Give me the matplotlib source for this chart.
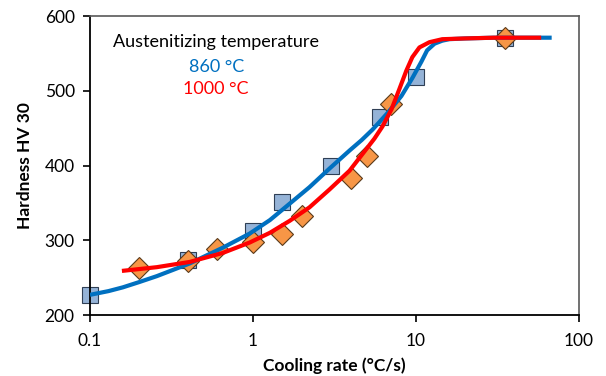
import numpy as np
import matplotlib.pyplot as plt
from matplotlib.ticker import FixedLocator, FixedFormatter, NullLocator

plt.rcParams['font.family'] = ['Lato', 'DejaVu Sans']

# measured points, 860 °C (squares)
rate_860 = [0.1, 0.4, 1, 1.5, 3, 6, 10, 35]
hv_860 = [227, 273, 313, 351, 400, 465, 519, 570]

# measured points, 1000 °C (diamonds)
rate_1000 = [0.2, 0.4, 0.6, 1, 1.5, 2, 4, 5, 7, 35]
hv_1000 = [263, 272, 288, 298, 308, 332, 383, 413, 482, 570]

# fitted curves
fit_rate_860 = [0.1, 0.13, 0.159, 0.2, 0.257, 0.32, 0.409, 0.652, 0.955, 1.27, 1.68, 2.22, 2.95,
                3.91, 4.64, 5.41, 6.68, 8.14, 9.5, 10.8, 11.7, 13, 14.5, 16, 20, 30, 68]
fit_hv_860 = [227, 232, 237, 244, 252, 260, 269, 290, 309, 327, 349, 371, 396,
              420, 434, 448, 470, 493, 517, 539, 554, 563, 567, 569, 570, 571, 571]

fit_rate_1000 = [0.157, 0.257, 0.409, 0.652, 0.955, 1.27, 1.68, 2.22, 2.95, 3.91, 5.04, 5.56,
                 6.22, 7.07, 7.9, 8.73, 9.5, 10.5, 12.1, 14.5, 20, 30, 58.6]
fit_hv_1000 = [259, 264, 271, 283, 297, 310, 326, 344, 368, 393, 424, 436,
               452, 475, 502, 527, 545, 558, 565, 569, 570, 571, 571]

x_ticks = [0.1, 1, 10, 100]
x_labels = ['0.1', '1', '10', '100']
y_ticks = [200, 300, 400, 500, 600]

fig = plt.figure(figsize=(6.06, 3.76), dpi=100)
ax = fig.add_axes([0.1485, 0.1622, 0.8069, 0.7952])

ax.plot(rate_860, hv_860, linestyle='none', marker='s', markersize=12,
        markerfacecolor='#95B3D7', markeredgecolor='#2F3F55', markeredgewidth=0.8, zorder=2, clip_on=False)
ax.plot(rate_1000, hv_1000, linestyle='none', marker='D', markersize=11.5,
        markerfacecolor='#F79646', markeredgecolor='#5A3A1A', markeredgewidth=0.8, zorder=3, clip_on=False)
ax.plot(fit_rate_860, fit_hv_860, color='#0070C0', lw=3, zorder=4,
        solid_capstyle='butt', solid_joinstyle='round')
ax.plot(fit_rate_1000, fit_hv_1000, color='#FF0000', lw=3, zorder=5,
        solid_capstyle='butt', solid_joinstyle='round')

ax.set_xscale('log')
ax.set_xlim(0.1, 100)
ax.set_ylim(200, 600)
ax.xaxis.set_major_locator(FixedLocator(x_ticks))
ax.xaxis.set_major_formatter(FixedFormatter(x_labels))
ax.xaxis.set_minor_locator(NullLocator())
ax.set_yticks(y_ticks)

ax.tick_params(axis='both', direction='out', length=5, width=1.2, labelsize=12.5, colors='black')
ax.tick_params(axis='x', pad=8)
ax.tick_params(axis='y', pad=6)

for side in ['left', 'bottom']:
    ax.spines[side].set_color('black')
    ax.spines[side].set_linewidth(1.3)
for side in ['top', 'right']:
    ax.spines[side].set_color('#595959')
    ax.spines[side].set_linewidth(1.2)

ax.set_xlabel('Cooling rate (°C/s)', fontsize=12.5, fontweight='bold', labelpad=6)
ax.set_ylabel('Hardness HV 30', fontsize=12.5, fontweight='bold', labelpad=8)

ax.text(0.258, 0.913, 'Austenitizing temperature', transform=ax.transAxes,
        fontsize=13, ha='center', va='center', color='black')
ax.text(0.258, 0.83, '860 °C', transform=ax.transAxes, fontsize=13, ha='center', va='center', color='#0070C0')
ax.text(0.258, 0.756, '1000 °C', transform=ax.transAxes, fontsize=13, ha='center', va='center', color='#FF0000')

fig.savefig('out.png', dpi=100)
